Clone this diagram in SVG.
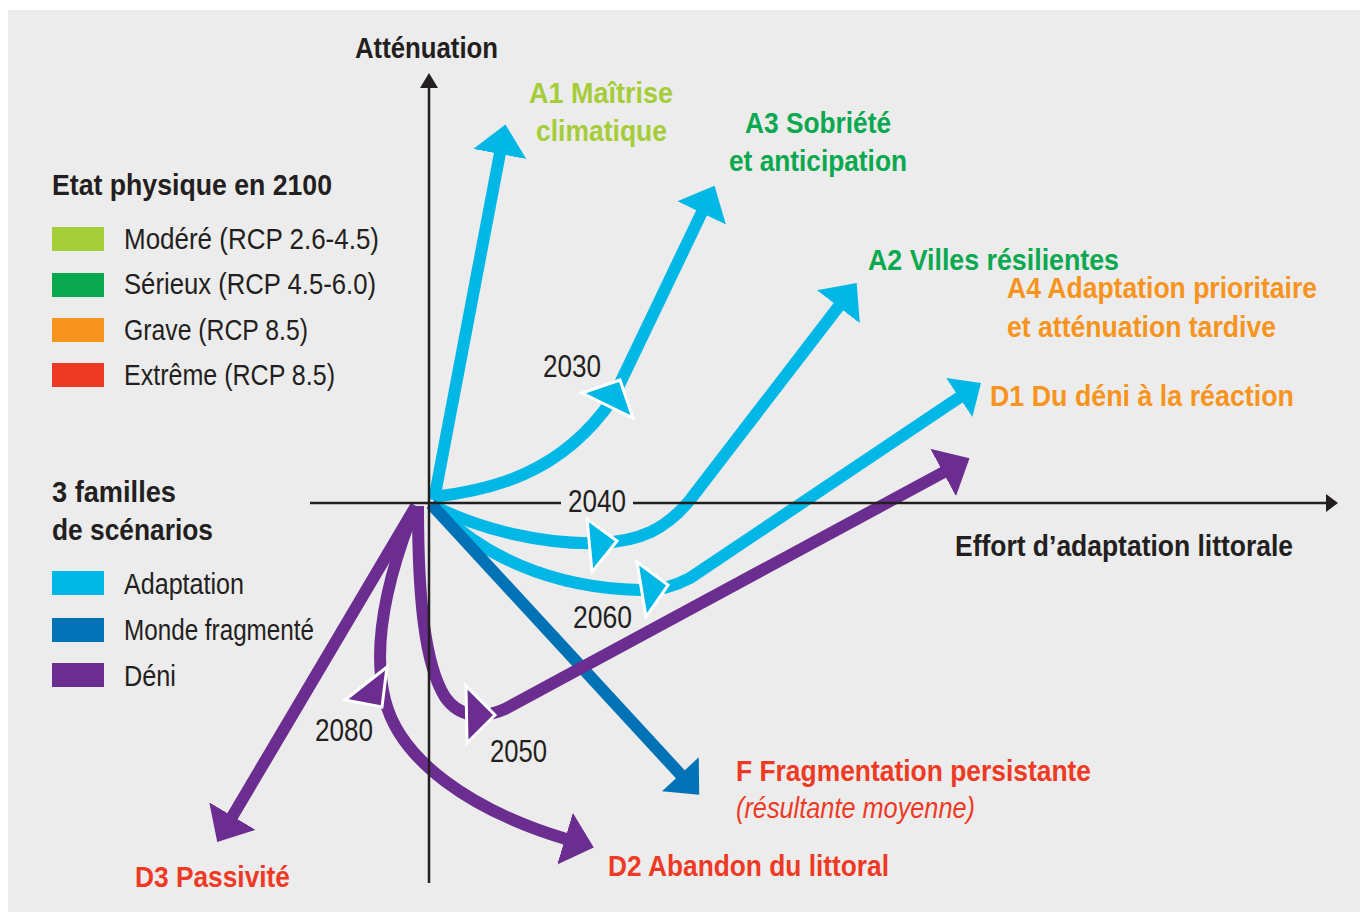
<svg xmlns="http://www.w3.org/2000/svg" width="1360" height="912" viewBox="0 0 1360 912">
<style>
text{font-family:"Liberation Sans Narrow","Liberation Sans",Arial,sans-serif}
.b{font-weight:bold;font-size:30px}
.r{font-weight:normal;font-size:29px;fill:#231f20}
.y{font-weight:normal;font-size:31px;fill:#231f20}
.k{fill:#231f20}
.lg{fill:#a5cd39}.g{fill:#0aa84f}.o{fill:#f7941e}.rd{fill:#ee3a25}
.ax{stroke:#231f20;stroke-width:2.5;fill:none}
.c{stroke:#00b7e6;stroke-width:12;fill:none}
.p{stroke:#6b2d8f;stroke-width:12;fill:none}
.f{stroke:#0072b5;stroke-width:12;fill:none}
.mc{fill:#00b7e6;stroke:#fff;stroke-width:3}
.mp{fill:#6b2d8f;stroke:#fff;stroke-width:3}
</style>
<defs>
<marker id="hc" markerUnits="userSpaceOnUse" viewBox="0 0 32 54" markerWidth="32" markerHeight="54" refX="1" refY="27" orient="auto"><path d="M0,0 L30,27 L0,54 Z" fill="#00b7e6"/></marker>
<marker id="hcs" markerUnits="userSpaceOnUse" viewBox="0 0 32 54" markerWidth="28" markerHeight="47" refX="1" refY="27" orient="auto"><path d="M0,0 L30,27 L0,54 Z" fill="#00b7e6"/></marker>
<marker id="hp" markerUnits="userSpaceOnUse" viewBox="0 0 32 54" markerWidth="32" markerHeight="54" refX="1" refY="27" orient="auto"><path d="M0,0 L30,27 L0,54 Z" fill="#6b2d8f"/></marker>
<marker id="hf" markerUnits="userSpaceOnUse" viewBox="0 0 32 54" markerWidth="32" markerHeight="50" refX="1" refY="27" orient="auto"><path d="M0,0 L30,27 L0,54 Z" fill="#0072b5"/></marker>
</defs>
<rect x="8" y="10" width="1352" height="902" fill="#ececec"/>

<g id="legend-etat">
<text class="b k" x="52" y="195" textLength="280" lengthAdjust="spacingAndGlyphs">Etat physique en 2100</text>
<rect x="52" y="227" width="52" height="24" fill="#a5cd39"/>
<text class="r" x="124" y="249" textLength="255" lengthAdjust="spacingAndGlyphs">Modéré (RCP 2.6-4.5)</text>
<rect x="52" y="273" width="52" height="24" fill="#0aa84f"/>
<text class="r" x="124" y="294" textLength="252" lengthAdjust="spacingAndGlyphs">Sérieux (RCP 4.5-6.0)</text>
<rect x="52" y="318" width="52" height="24" fill="#f7941e"/>
<text class="r" x="124" y="340" textLength="184" lengthAdjust="spacingAndGlyphs">Grave (RCP 8.5)</text>
<rect x="52" y="363" width="52" height="24" fill="#ee3a25"/>
<text class="r" x="124" y="385" textLength="211" lengthAdjust="spacingAndGlyphs">Extrême (RCP 8.5)</text>
</g>

<g id="legend-familles">
<text class="b k" x="52" y="502" textLength="124" lengthAdjust="spacingAndGlyphs">3 familles</text>
<text class="b k" x="52" y="540" textLength="161" lengthAdjust="spacingAndGlyphs">de scénarios</text>
<rect x="52" y="571" width="52" height="24" fill="#00b7e6"/>
<text class="r" x="124" y="594" textLength="120" lengthAdjust="spacingAndGlyphs">Adaptation</text>
<rect x="52" y="618" width="52" height="24" fill="#0072b5"/>
<text class="r" x="124" y="640" textLength="190" lengthAdjust="spacingAndGlyphs">Monde fragmenté</text>
<rect x="52" y="663" width="52" height="24" fill="#6b2d8f"/>
<text class="r" x="124" y="686" textLength="52" lengthAdjust="spacingAndGlyphs">Déni</text>
</g>

<g id="connectors">
<path class="c" d="M434,500 L500,153" marker-end="url(#hc)"/>
<path class="c" d="M433,497 C490,490 560,475 612,400 L702,212" marker-end="url(#hc)"/>
<path class="c" d="M432,505 C480,530 545,545 600,543 C640,541 665,530 690,500 L839,306" marker-end="url(#hc)"/>
<path class="c" d="M432,505 C480,555 550,588 640,590 C660,591 675,586 690,578 L960,397" marker-end="url(#hcs)"/>
<path class="f" d="M431,504 L681,775" marker-end="url(#hf)"/>
<path class="p" d="M418,506 C418,600 425,665 445,697 C458,716 480,720 505,709 L944,472" marker-end="url(#hp)"/>
<path class="p" d="M416,506 L232,817" marker-end="url(#hp)"/>
<path class="p" d="M410,520 C393,565 370,640 385,700 C400,760 470,810 566,839" marker-end="url(#hp)"/>
<polygon class="mc" points="620,380 582,393 633,418"/>
<polygon class="mc" points="617,541 587,519 592,572"/>
<polygon class="mc" points="668,585 637,562 646,617"/>
<polygon class="mp" points="495,715 466,686 467,743"/>
<polygon class="mp" points="387,667 345,700 382,707"/>
</g>

<g id="axes">
<line class="ax" x1="429" y1="883" x2="429" y2="86"/>
<polygon points="420,88 429,73 438,88" fill="#231f20"/>
<line class="ax" x1="310" y1="503" x2="561" y2="503"/>
<line class="ax" x1="633" y1="503" x2="1328" y2="503"/>
<polygon points="1326,494 1338,503 1326,512" fill="#231f20"/>
<text class="b k" x="355" y="58" textLength="143" lengthAdjust="spacingAndGlyphs">Atténuation</text>
<text class="b k" x="955" y="556" textLength="338" lengthAdjust="spacingAndGlyphs">Effort d’adaptation littorale</text>
</g>

<g id="years">
<text class="y" x="543" y="377" textLength="58" lengthAdjust="spacingAndGlyphs">2030</text>
<text class="y" x="568" y="512" textLength="58" lengthAdjust="spacingAndGlyphs">2040</text>
<text class="y" x="573" y="628" textLength="59" lengthAdjust="spacingAndGlyphs">2060</text>
<text class="y" x="315" y="741" textLength="58" lengthAdjust="spacingAndGlyphs">2080</text>
<text class="y" x="490" y="762" textLength="57" lengthAdjust="spacingAndGlyphs">2050</text>
</g>

<g id="A1">
<text class="b lg" x="529" y="103" textLength="144" lengthAdjust="spacingAndGlyphs">A1 Maîtrise</text>
<text class="b lg" x="536" y="141" textLength="131" lengthAdjust="spacingAndGlyphs">climatique</text>
</g>
<g id="A3">
<text class="b g" x="745" y="133" textLength="146" lengthAdjust="spacingAndGlyphs">A3 Sobriété</text>
<text class="b g" x="729" y="171" textLength="178" lengthAdjust="spacingAndGlyphs">et anticipation</text>
</g>
<g id="A2">
<text class="b g" x="868" y="270" textLength="251" lengthAdjust="spacingAndGlyphs">A2 Villes résilientes</text>
</g>
<g id="A4">
<text class="b o" x="1007" y="298" textLength="310" lengthAdjust="spacingAndGlyphs">A4 Adaptation prioritaire</text>
<text class="b o" x="1007" y="337" textLength="269" lengthAdjust="spacingAndGlyphs">et atténuation tardive</text>
</g>
<g id="D1">
<text class="b o" x="990" y="406" textLength="304" lengthAdjust="spacingAndGlyphs">D1 Du déni à la réaction</text>
</g>
<g id="F">
<text class="b rd" x="736" y="781" textLength="355" lengthAdjust="spacingAndGlyphs">F Fragmentation persistante</text>
<text class="rd" x="736" y="818" font-size="30" font-style="italic" textLength="239" lengthAdjust="spacingAndGlyphs">(résultante moyenne)</text>
</g>
<g id="D2">
<text class="b rd" x="608" y="876" textLength="281" lengthAdjust="spacingAndGlyphs">D2 Abandon du littoral</text>
</g>
<g id="D3">
<text class="b rd" x="135" y="887" textLength="155" lengthAdjust="spacingAndGlyphs">D3 Passivité</text>
</g>
</svg>
